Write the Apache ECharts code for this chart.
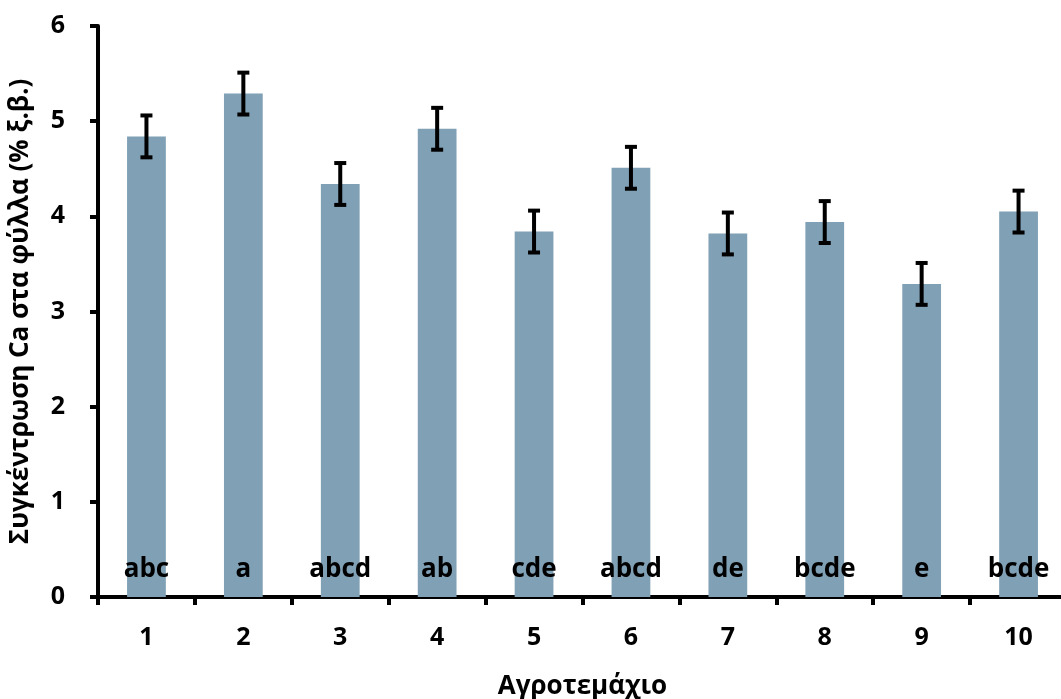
<!DOCTYPE html>
<html>
<head>
<meta charset="utf-8">
<script src="https://cdn.jsdelivr.net/npm/echarts@6/dist/echarts.min.js"></script>
<style>
  html, body { margin: 0; padding: 0; background: #ffffff; overflow: hidden; }
  #chart { width: 1061px; height: 699px; }
</style>
</head>
<body>
<div id="chart"></div>
<script>
// Plots (Αγροτεμάχιο) and leaf Ca concentration (% dry weight)
const plots = ['1', '2', '3', '4', '5', '6', '7', '8', '9', '10'];
const caValues = [4.84, 5.29, 4.34, 4.92, 3.84, 4.51, 3.82, 3.94, 3.29, 4.05];
const caErrors = [0.22, 0.22, 0.22, 0.22, 0.22, 0.22, 0.22, 0.22, 0.22, 0.22];
const groupLetters = ['abc', 'a', 'abcd', 'ab', 'cde', 'abcd', 'de', 'bcde', 'e', 'bcde'];
const yTicks = [0, 1, 2, 3, 4, 5, 6];

const FONT = '"Open Sans", "DejaVu Sans", sans-serif';

const chart = echarts.init(document.getElementById('chart'), null, {
  renderer: 'canvas', width: 1061, height: 699
});

const errorData = plots.map((p, i) => [i, caValues[i], caErrors[i]]);

chart.setOption({
  animation: false,
  grid: {
    left: 98, right: -6, top: 26, bottom: 102,
    containLabel: false,
    outerBoundsMode: 'none'
  },
  xAxis: {
    type: 'category',
    data: plots,
    name: 'Αγροτεμάχιο',
    nameLocation: 'middle',
    nameGap: 77,
    nameTextStyle: { fontFamily: FONT, fontWeight: 'bold', fontSize: 26, color: '#000' },
    axisLine: { lineStyle: { color: '#000', width: 4 } },
    axisTick: { show: true, length: 8, lineStyle: { color: '#000', width: 4 } },
    axisLabel: { fontFamily: FONT, fontWeight: 'bold', fontSize: 25, color: '#000', margin: 28 },
    splitLine: { show: false }
  },
  yAxis: {
    type: 'value',
    min: yTicks[0],
    max: yTicks[yTicks.length - 1],
    interval: 1,
    name: 'Συγκέντρωση Ca στα φύλλα (% ξ.β.)',
    nameLocation: 'middle',
    nameGap: 64,
    nameRotate: 90,
    nameTextStyle: { fontFamily: FONT, fontWeight: 'bold', fontSize: 26, color: '#000' },
    axisLine: { show: true, lineStyle: { color: '#000', width: 4 } },
    axisTick: { show: true, length: 8, lineStyle: { color: '#000', width: 4 } },
    axisLabel: { fontFamily: FONT, fontWeight: 'bold', fontSize: 25, color: '#000', margin: 33 },
    splitLine: { show: false }
  },
  series: [
    {
      type: 'bar',
      data: caValues,
      barWidth: '40%',
      itemStyle: { color: '#7fa0b5' },
      label: {
        show: true,
        position: 'insideBottom',
        distance: 14,
        formatter: (p) => groupLetters[p.dataIndex],
        fontFamily: FONT,
        fontWeight: 'bold',
        fontSize: 26,
        color: '#000'
      },
      z: 2
    },
    {
      type: 'custom',
      data: errorData,
      z: 5,
      renderItem: function (params, api) {
        const idx = api.value(0);
        const v = api.value(1);
        const e = api.value(2);
        const top = api.coord([idx, v + e]);
        const bot = api.coord([idx, v - e]);
        const half = 6;
        const style = { stroke: '#000', lineWidth: 4 };
        return {
          type: 'group',
          children: [
            { type: 'line', shape: { x1: top[0], y1: top[1], x2: bot[0], y2: bot[1] }, style: style },
            { type: 'line', shape: { x1: top[0] - half, y1: top[1], x2: top[0] + half, y2: top[1] }, style: style },
            { type: 'line', shape: { x1: bot[0] - half, y1: bot[1], x2: bot[0] + half, y2: bot[1] }, style: style }
          ]
        };
      }
    }
  ]
});
</script>
</body>
</html>
